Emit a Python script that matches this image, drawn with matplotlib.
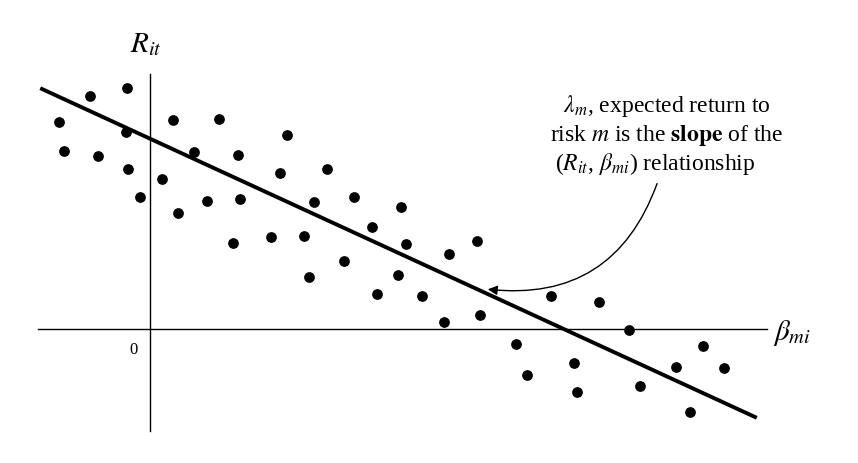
import matplotlib
matplotlib.use("Agg")
import matplotlib.pyplot as plt

plt.rcParams['mathtext.fontset'] = 'stix'
plt.rcParams['font.family'] = ['Liberation Serif', 'DejaVu Serif']

# scatter points (x, y in drawing units; y measured downward from the top)
px = [59,64,90,98,127,126,128,140,162,173,178,194,207,219,233,238,240,271,280,287,304,309,314,327,344,354,372,377,398,401,406,422,444,449,477,480,516,527,551,574,577,599,629,640,676,690,703,724]
py = [123,152,97,157,89,133,170,198,180,121,214,153,202,120,244,156,200,238,174,136,237,278,203,170,262,198,228,295,276,208,245,297,323,255,242,316,345,376,297,364,393,303,331,387,368,413,347,369]
line_x = [42, 755]
line_y = [90, 418]

fig = plt.figure(figsize=(8.58, 4.64), dpi=100)
ax = fig.add_axes([0, 0, 1, 1])
ax.set_xlim(0, 858)
ax.set_ylim(464, 0)
ax.axis('off')

ax.plot([150, 150], [75, 432], color='black', lw=1)
ax.plot([38, 767], [330, 330], color='black', lw=1)
ax.plot(line_x, line_y, color='black', lw=2.8)
ax.scatter(px, py, s=45, color='black', zorder=3)

ax.text(134, 350, '0', fontsize=12, ha='center', va='center')
ax.text(146, 45, r'$R_{it}$', fontsize=21, ha='center', va='center')
ax.text(792, 333, r'$\beta_{mi}$', fontsize=21, ha='center', va='center')

fs = 17
ax.text(667, 106, r'$\lambda_m$, expected return to', fontsize=fs, ha='center', va='center')
ax.text(667, 136, r'risk $m$ is the $\mathbf{slope}$ of the', fontsize=fs, ha='center', va='center')
ax.text(655, 164, r'($R_{it}$, $\beta_{mi}$) relationship', fontsize=fs, ha='center', va='center')

ax.annotate('', xy=(485, 290), xytext=(658, 182),
            arrowprops=dict(arrowstyle='-|>', color='black', lw=1,
                            connectionstyle='arc3,rad=-0.4', mutation_scale=14))

fig.savefig('out.png', dpi=100)
